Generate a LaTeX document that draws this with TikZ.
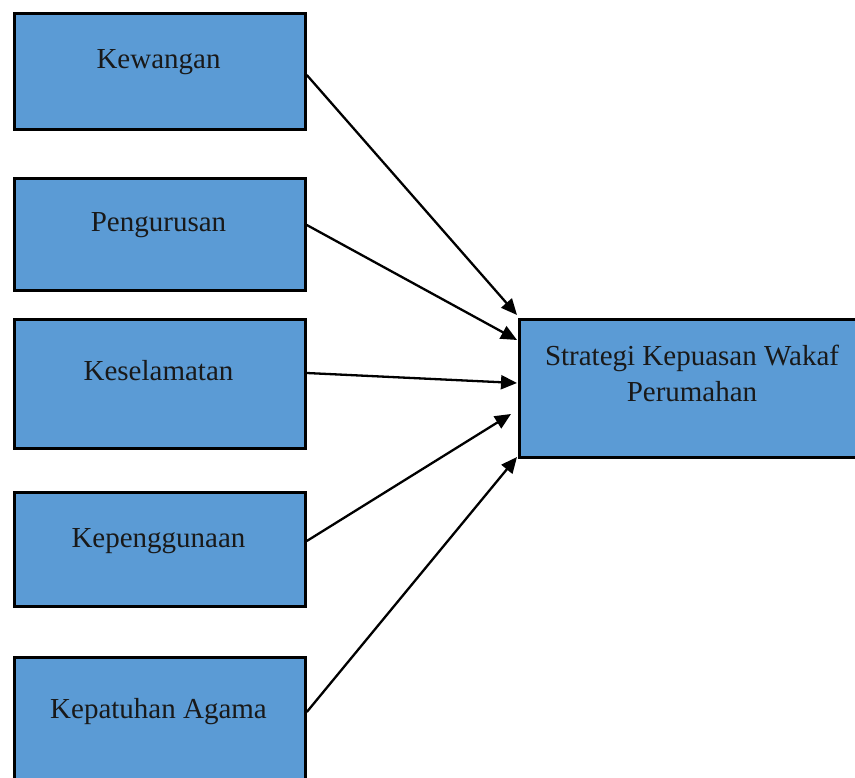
\documentclass[tikz,border=0pt]{standalone}
\usepackage{fontspec}
\setmainfont{Liberation Serif}
\usetikzlibrary{arrows.meta}
\definecolor{boxblue}{RGB}{91,155,213}
\begin{document}
\begin{tikzpicture}[x=1pt,y=-1pt,
  box/.style={draw=black,line width=2.8pt,fill=boxblue,inner sep=0pt,anchor=north west},
  lbl/.style={font=\fontsize{29}{36}\selectfont,inner sep=0pt,anchor=base,text=black!90},
  arr/.style={line width=2.3pt,-{Triangle[length=16pt,width=14pt]}}]
\useasboundingbox (0,0) rectangle (855,778);
% left boxes
\node[box,minimum width=291pt,minimum height=116pt] (b1) at (13,12) {};
\node[box,minimum width=291pt,minimum height=112pt] (b2) at (13,177) {};
\node[box,minimum width=291pt,minimum height=129pt] (b3) at (13,318) {};
\node[box,minimum width=291pt,minimum height=114pt] (b4) at (13,491) {};
\node[box,minimum width=291pt,minimum height=140pt] (b5) at (13,656) {};
% target box
\node[box,minimum width=360pt,minimum height=138pt] (s) at (518,318) {};
% labels
\node[lbl] (t1) at (158.5,69) {Kewangan};
\node[lbl] (t2) at (158.5,232) {Pengurusan};
\node[lbl] (t3) at (158.5,381) {Keselamatan};
\node[lbl] (t4) at (158.5,547) {Kepenggunaan};
\node[lbl] (t5) at (158.5,718) {Kepatuhan Agama};
\node[lbl,align=center] (ts) at (692,402) {Strategi Kepuasan Wakaf\\Perumahan};
% connector endpoints
\coordinate (a1) at (b1.north east |- 0,75);
\coordinate (a2) at (b2.north east |- 0,225);
\coordinate (a3) at (b3.north east |- 0,373);
\coordinate (a4) at (b4.north east |- 0,541);
\coordinate (a5) at (b5.north east |- 0,712);
\coordinate (e1) at (517,315);
\coordinate (e2) at (517,340);
\coordinate (e3) at (517,383);
\coordinate (e4) at (511,414);
\coordinate (e5) at (517,457);
\draw[arr] (a1) -- (e1);
\draw[arr] (a2) -- (e2);
\draw[arr] (a3) -- (e3);
\draw[arr] (a4) -- (e4);
\draw[arr] (a5) -- (e5);
\end{tikzpicture}
\end{document}
